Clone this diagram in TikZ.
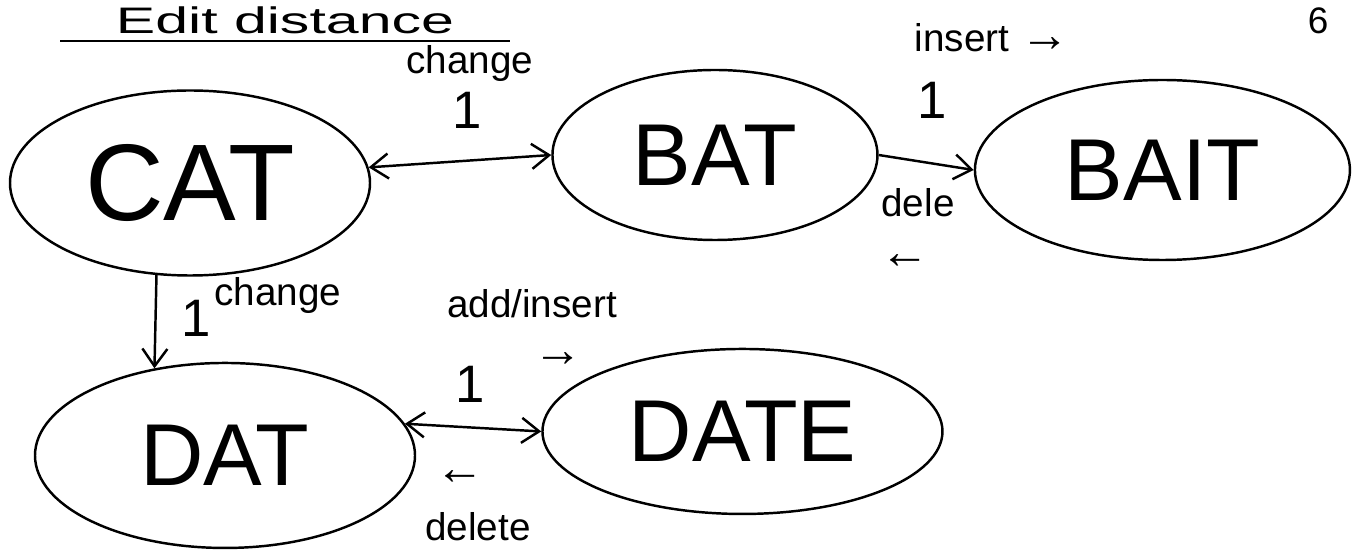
\documentclass[tikz,border=0pt]{standalone}
\usepackage{fontspec}
\setmainfont{Liberation Sans}
\usepackage{tikz}
\usetikzlibrary{shapes.geometric, arrows.meta, positioning}
\tikzstyle{word} = [ellipse, draw, line width=1.4pt, font=\fontsize{50}{60}\selectfont, inner sep=0pt]
\tikzstyle{lbl} = [font=\fontsize{22}{26}\selectfont, align=center, inner sep=1pt]
\tikzstyle{sign} = [font=\fontsize{28}{30}\selectfont, inner sep=0pt]
\tikzstyle{cost} = [font=\fontsize{30}{34}\selectfont, inner sep=0pt]
\tikzstyle{arrow} = [draw, -{Straight Barb[length=3.5mm, width=5mm]}, line width=1.4pt]
\tikzstyle{dblarrow} = [draw, {Straight Barb[length=3.5mm, width=5mm]}-{Straight Barb[length=3.5mm, width=5mm]}, line width=1.4pt]

\begin{document}
\begin{tikzpicture}[x=0.2mm, y=-0.2mm]
  \useasboundingbox (0,0) rectangle (1356,554);

  % Titulo
  \node (title) [anchor=base, font=\fontsize{21}{25}\selectfont, inner sep=0pt, xscale=1.6] at (285,34) {Edit distance};
  \draw [line width=1.4pt] (60,41) -- (510,41);
  \node (page) [anchor=base, font=\fontsize{21}{25}\selectfont, inner sep=0pt] at (1318,34) {6};

  % Palabras
  \node (cat) [word, minimum width=72mm, minimum height=37mm, font=\fontsize{62}{70}\selectfont] at (190,183) {CAT};
  \node (bat) [word, minimum width=65mm, minimum height=34mm, right=36mm of cat, yshift=5.6mm] {BAT};
  \node (bait) [word, minimum width=75mm, minimum height=36mm, right=19mm of bat, yshift=-3mm] {BAIT};
  \node (dat) [word, minimum width=76mm, minimum height=37mm, below=17mm of cat, xshift=7mm] {DAT};
  \node (date) [word, minimum width=80mm, minimum height=33mm, right=25mm of dat, yshift=4.8mm] {DATE};

  % Flechas
  \draw [dblarrow] (cat.5) -- (bat.west);
  \draw [arrow] (bat.east) -- (bait.west);
  \draw [arrow] (cat.250) -- (dat.129);
  \draw [dblarrow] (dat.10) -- (date.west);

  % Etiquetas
  \node (lchange) [lbl] at (470,64) {change};
  \node (cchange) [cost] at (467,110) {1};
  \node (linsert) [lbl, anchor=base] at (992,52) {insert \fontsize{28}{30}\selectfont →};
  \node (cinsert) [cost] at (932,100) {1};
  \node (ldele) [lbl] at (918,203) {dele};
  \node (adele) [sign] at (905,262) {←};
  \node (cdown) [cost] at (196,318) {1};
  \node (ldown) [lbl] at (278,296) {change};
  \node (ladd) [lbl] at (532,304) {add/insert};
  \node (aadd) [sign] at (558,360) {→};
  \node (cadd) [cost] at (470,384) {1};
  \node (adelete) [sign] at (460,478) {←};
  \node (ldelete) [lbl] at (478,527) {delete};

\end{tikzpicture}
\end{document}
